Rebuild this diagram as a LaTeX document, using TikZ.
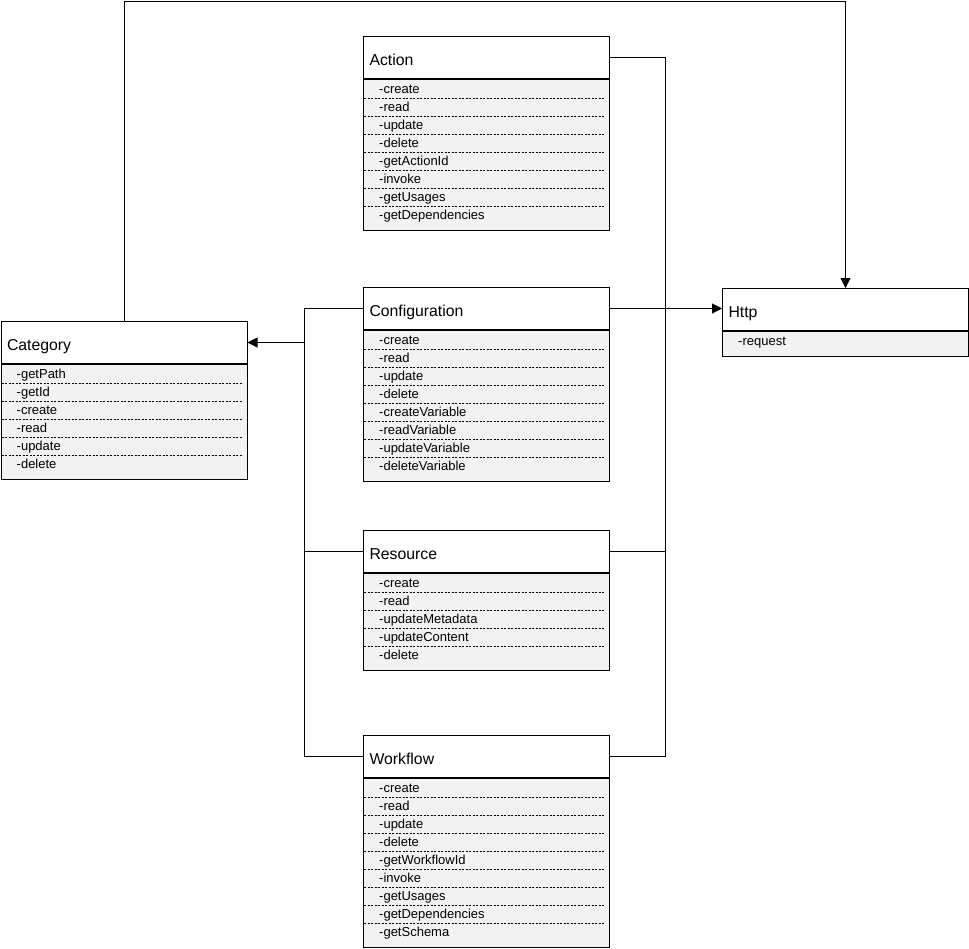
\documentclass[tikz,border=0pt]{standalone}
\usepackage{fontspec}
\setmainfont{Liberation Sans}
\usetikzlibrary{positioning,arrows.meta}

\definecolor{bodygray}{HTML}{F2F2F2}

\tikzset{
  classhead/.style={draw, fill=white, line width=1pt, anchor=north west, text width=234pt, inner xsep=6pt, inner ysep=0pt, minimum height=42pt, text height=15pt, text depth=0pt, align=left, font=\fontsize{15.8}{18}\selectfont},
  classbody/.style={draw, fill=bodygray, line width=1pt, minimum width=246pt, inner sep=0pt},
  member/.style={anchor=west, inner sep=0pt, text height=11pt, text depth=2pt, font=\fontsize{13}{15}\selectfont},
  sepline/.style={dash pattern=on 2pt off 1.5pt, line width=0.7pt},
  link/.style={line width=1pt},
  arr/.style={line width=1pt, -{Triangle[length=10pt,width=10pt]}},
}

\newcommand{\umlclass}[6]{%
  \node[classhead] (#1Head) at (#2,#3) {#5};
  \node[classbody, below=0pt of #1Head.south west, anchor=north west, minimum height={(18*#4+7)*1pt}] (#1Body) {};
  \foreach \m [count=\i] in {#6} {
    \node[member] (#1Item\i) at ({#2+16},{#3+42+18*\i-7}) {\m};
    \ifnum\i>1 \draw[sepline] ({#2+1},{#3+42+18*\i-16}) -- ({#2+242},{#3+42+18*\i-16}); \fi
  }
}

\begin{document}
\begin{tikzpicture}[x=1pt,y=-1pt]
\useasboundingbox (0,0) rectangle (969,948);

\umlclass{act}{363}{36}{8}{Action}{-create,-read,-update,-delete,-getActionId,-invoke,-getUsages,-getDependencies}
\umlclass{cat}{0.5}{321}{6}{Category}{-getPath,-getId,-create,-read,-update,-delete}
\umlclass{cfg}{363}{287}{8}{Configuration}{-create,-read,-update,-delete,-createVariable,-readVariable,-updateVariable,-deleteVariable}
\umlclass{res}{363}{530}{5}{Resource}{-create,-read,-updateMetadata,-updateContent,-delete}
\umlclass{wf}{363}{735}{9}{Workflow}{-create,-read,-update,-delete,-getWorkflowId,-invoke,-getUsages,-getDependencies,-getSchema}
\umlclass{http}{722}{288}{1}{Http}{-request}

\coordinate (topRun) at (0,1);
\coordinate (leftBus) at (304,0);
\coordinate (rightBus) at (665,0);

\draw[arr] (catHead.north) -- (catHead.north |- topRun) -| (httpHead.north);
\draw[arr] (cfgHead.east) -- (cfgHead.east -| httpHead.west);
\draw[link] (actHead.east) -| (rightBus |- wfHead.east) -- (wfHead.east);
\draw[link] (resHead.east) -- (resHead.east -| rightBus);
\draw[link] (cfgHead.west) -| (leftBus |- wfHead.west) -- (wfHead.west);
\draw[link] (resHead.west) -- (resHead.west -| leftBus);
\draw[arr] (catHead.east -| leftBus) -- (catHead.east);
\end{tikzpicture}
\end{document}
